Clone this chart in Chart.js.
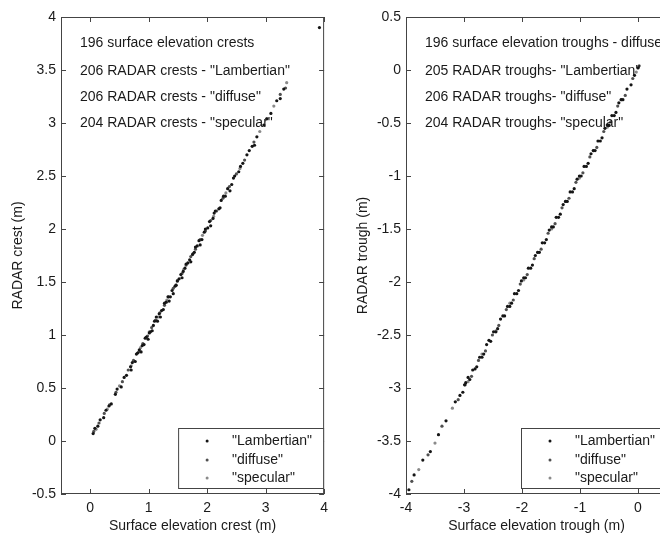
<!DOCTYPE html>
<html>
<head>
<meta charset="utf-8">
<script src="https://cdn.jsdelivr.net/npm/chart.js@4.4.1/dist/chart.umd.min.js"></script>
<style>
  html, body { margin: 0; padding: 0; background: #fff; overflow: hidden; width: 660px; height: 533px; }
  #crestCanvas { position: absolute; left: 0; top: 0; }
  #troughCanvas { position: absolute; left: 330px; top: 0; }
</style>
</head>
<body>
<canvas id="crestCanvas" width="334" height="533"></canvas>
<canvas id="troughCanvas" width="350" height="533"></canvas>
<script>
// Crest / trough comparison, surface elevation vs RADAR

const seriesNames = ['"Lambertian"', '"diffuse"', '"specular"'];

// [surface elevation, RADAR] pairs
const crestLambertian = [
  [0.05, 0.07], [0.08, 0.12], [0.13, 0.14], [0.17, 0.20], [0.23, 0.22], [0.27, 0.29], [0.32, 0.33],
  [0.36, 0.35], [0.43, 0.44], [0.46, 0.49], [0.53, 0.51], [0.58, 0.60], [0.62, 0.62], [0.69, 0.70],
  [0.72, 0.74], [0.77, 0.75], [0.81, 0.83], [0.84, 0.86], [0.89, 0.90], [0.92, 0.91], [0.96, 0.98],
  [1.01, 1.02], [1.03, 1.03], [1.08, 1.09], [1.10, 1.13], [1.15, 1.13], [1.18, 1.20], [1.22, 1.23],
  [1.25, 1.24], [1.30, 1.31], [1.33, 1.36], [1.37, 1.36], [1.40, 1.42], [1.45, 1.46], [1.47, 1.47],
  [1.52, 1.53], [1.55, 1.57], [1.59, 1.60], [1.62, 1.63], [1.67, 1.68], [1.70, 1.71], [1.75, 1.76],
  [1.78, 1.78], [1.83, 1.84], [1.86, 1.89], [1.91, 1.90], [1.95, 1.97], [2.01, 2.01], [2.04, 2.07],
  [2.10, 2.10], [2.14, 2.17], [2.20, 2.19], [2.24, 2.27], [2.31, 2.31], [2.35, 2.38], [2.42, 2.42],
  [2.47, 2.50], [2.54, 2.54], [2.61, 2.62], [2.68, 2.70], [2.77, 2.78], [2.85, 2.87], [2.97, 2.98],
  [3.09, 3.09], [3.19, 3.21], [3.31, 3.32], [3.92, 3.90],
  [0.70, 0.67], [0.79, 0.82], [0.87, 0.84], [0.94, 0.97], [0.99, 0.96], [1.06, 1.04], [1.13, 1.17],
  [1.20, 1.17], [1.27, 1.30], [1.35, 1.32], [1.42, 1.39], [1.49, 1.51], [1.57, 1.54], [1.64, 1.67],
  [1.72, 1.69], [1.80, 1.83], [1.88, 1.85], [1.97, 2.00], [2.06, 2.03], [2.12, 2.15], [2.22, 2.20],
  [2.28, 2.31], [2.39, 2.36], [2.45, 2.48], [2.57, 2.59], [2.72, 2.74], [2.81, 2.79], [3.02, 3.04],
  [3.25, 3.23]
];
const crestDiffuse = [
  [0.06, 0.09], [0.15, 0.17], [0.24, 0.26], [0.33, 0.34], [0.44, 0.46], [0.55, 0.56], [0.65, 0.67],
  [0.74, 0.76], [0.83, 0.84], [0.90, 0.92], [0.98, 0.99], [1.05, 1.07], [1.12, 1.14], [1.19, 1.21],
  [1.27, 1.28], [1.34, 1.36], [1.42, 1.44], [1.49, 1.51], [1.57, 1.58], [1.64, 1.66], [1.72, 1.74],
  [1.80, 1.81], [1.88, 1.90], [1.97, 1.98], [2.06, 2.08], [2.16, 2.17], [2.27, 2.29], [2.38, 2.40],
  [2.50, 2.52], [2.64, 2.65], [2.80, 2.82], [3.02, 3.04], [3.25, 3.27], [3.34, 3.33]
];
const crestSpecular = [
  [0.10, 0.11], [0.29, 0.30], [0.50, 0.52], [0.70, 0.71], [0.86, 0.88], [1.01, 1.03], [1.16, 1.17],
  [1.31, 1.33], [1.46, 1.47], [1.60, 1.62], [1.76, 1.77], [1.92, 1.94], [2.11, 2.12], [2.32, 2.34],
  [2.56, 2.57], [2.90, 2.92], [3.14, 3.16], [3.36, 3.38]
];

// right panel
const troughLambertian = [
  [-3.95, -3.96], [-3.86, -3.82], [-3.71, -3.68], [-3.58, -3.60], [-3.44, -3.44], [-3.31, -3.31],
  [-3.15, -3.13], [-3.07, -3.07], [-3.02, -3.04], [-2.97, -2.95], [-2.90, -2.92], [-2.85, -2.83],
  [-2.78, -2.80], [-2.73, -2.71], [-2.66, -2.68], [-2.61, -2.59], [-2.54, -2.56], [-2.49, -2.47],
  [-2.42, -2.44], [-2.37, -2.35], [-2.30, -2.32], [-2.25, -2.23], [-2.18, -2.20], [-2.13, -2.11],
  [-2.06, -2.08], [-2.01, -1.99], [-1.94, -1.96], [-1.89, -1.87], [-1.82, -1.84], [-1.77, -1.75],
  [-1.70, -1.72], [-1.65, -1.63], [-1.58, -1.60], [-1.53, -1.51], [-1.46, -1.48], [-1.41, -1.39],
  [-1.34, -1.36], [-1.29, -1.27], [-1.22, -1.24], [-1.17, -1.15], [-1.10, -1.12], [-1.05, -1.03],
  [-0.98, -1.00], [-0.93, -0.91], [-0.86, -0.88], [-0.81, -0.79], [-0.74, -0.76], [-0.69, -0.67],
  [-0.62, -0.64], [-0.57, -0.55], [-0.50, -0.52], [-0.45, -0.43], [-0.38, -0.40], [-0.33, -0.31],
  [-0.26, -0.28], [-0.19, -0.18], [-0.12, -0.14], [-0.06, -0.05], [0.00, 0.02],
  [-2.99, -2.97], [-2.93, -2.90], [-2.81, -2.82], [-2.69, -2.71], [-2.57, -2.55], [-2.45, -2.47],
  [-2.33, -2.32], [-2.21, -2.23], [-2.09, -2.11], [-1.97, -1.96], [-1.85, -1.87], [-1.73, -1.72],
  [-1.61, -1.63], [-1.49, -1.48], [-1.37, -1.39], [-1.25, -1.24], [-1.13, -1.15], [-1.01, -1.00],
  [-0.89, -0.91], [-0.77, -0.76], [-0.65, -0.67], [-0.53, -0.52], [-0.41, -0.43], [-0.29, -0.28]
];
const troughDiffuse = [
  [-3.90, -3.88], [-3.62, -3.63], [-3.38, -3.36], [-3.10, -3.11], [-2.98, -2.97], [-2.87, -2.89],
  [-2.75, -2.74], [-2.63, -2.65], [-2.51, -2.50], [-2.40, -2.41], [-2.27, -2.26], [-2.15, -2.17],
  [-2.03, -2.02], [-1.91, -1.93], [-1.79, -1.78], [-1.67, -1.69], [-1.55, -1.54], [-1.43, -1.45],
  [-1.31, -1.30], [-1.19, -1.21], [-1.07, -1.06], [-0.95, -0.97], [-0.83, -0.82], [-0.71, -0.73],
  [-0.59, -0.58], [-0.47, -0.49], [-0.35, -0.34], [-0.22, -0.24], [-0.09, -0.08], [0.02, 0.04]
];
const troughSpecular = [
  [-3.78, -3.77], [-3.50, -3.52], [-3.20, -3.19], [-2.93, -2.94], [-2.69, -2.68], [-2.45, -2.46],
  [-2.21, -2.20], [-1.97, -1.98], [-1.73, -1.72], [-1.49, -1.50], [-1.25, -1.24], [-1.01, -1.02],
  [-0.77, -0.76], [-0.53, -0.54], [-0.29, -0.28], [-0.03, -0.02]
];

const crestXTicks = [0, 1, 2, 3, 4];
const crestYTicks = [-0.5, 0, 0.5, 1, 1.5, 2, 2.5, 3, 3.5, 4];
const troughXTicks = [-4, -3, -2, -1, 0];
const troughYTicks = [-4, -3.5, -3, -2.5, -2, -1.5, -1, -0.5, 0, 0.5];

const crestNotes = [
  '196 surface elevation crests',
  '206 RADAR crests - "Lambertian"',
  '206 RADAR crests - "diffuse"',
  '204 RADAR crests - "specular"'
];
const troughNotes = [
  '196 surface elevation troughs - diffuse',
  '205 RADAR troughs- "Lambertian"',
  '206 RADAR troughs- "diffuse"',
  '204 RADAR troughs- "specular"'
];

const pointColors = ['#151515', '#505050', '#8a8a8a'];
const FONT = "'Liberation Sans', Arial, sans-serif";
const INK = '#1a1a1a';

Chart.defaults.font.family = FONT;
Chart.defaults.font.size = 14;
Chart.defaults.color = INK;

// matlab-like box with inward ticks, note lines and boxed legend
const matlabFrame = {
  id: 'matlabFrame',
  afterDraw(chart, args, opts) {
    const ctx = chart.ctx;
    const { left, right, top, bottom } = chart.chartArea;
    const xs = chart.scales.x, ys = chart.scales.y;
    ctx.save();
    ctx.strokeStyle = '#444';
    ctx.lineWidth = 1;
    ctx.strokeRect(left + 0.5, top + 0.5, right - left - 1, bottom - top - 1);
    ctx.beginPath();
    xs.ticks.forEach(t => {
      const px = Math.round(xs.getPixelForValue(t.value)) + 0.5;
      ctx.moveTo(px, bottom); ctx.lineTo(px, bottom - 5);
      ctx.moveTo(px, top); ctx.lineTo(px, top + 5);
    });
    ys.ticks.forEach(t => {
      const py = Math.round(ys.getPixelForValue(t.value)) + 0.5;
      ctx.moveTo(left, py); ctx.lineTo(left + 5, py);
      ctx.moveTo(right, py); ctx.lineTo(right - 5, py);
    });
    ctx.stroke();

    ctx.font = '14px ' + FONT;
    ctx.fillStyle = INK;
    ctx.textBaseline = 'middle';
    const noteY = [26, 54, 80, 106];
    opts.notes.forEach((s, i) => ctx.fillText(s, left + 19, top + noteY[i]));

    // legend
    const bw = 146, bh = 61;
    const bx = right - bw, by = bottom - 5 - bh;
    ctx.fillStyle = '#fff';
    ctx.fillRect(bx, by, bw, bh);
    ctx.strokeStyle = '#444';
    ctx.strokeRect(bx + 0.5, by + 0.5, bw - 1, bh - 1);
    const rowY = [13, 32, 50];
    chart.data.datasets.forEach((ds, i) => {
      ctx.fillStyle = ds.backgroundColor;
      ctx.beginPath();
      ctx.arc(bx + 29, by + rowY[i], 1.5, 0, Math.PI * 2);
      ctx.fill();
      ctx.fillStyle = INK;
      ctx.fillText(ds.label, bx + 54, by + rowY[i]);
    });
    ctx.restore();
  }
};

function makePanel(canvasId, series, xTicks, yTicks, xRange, yRange, xTitle, yTitle, notes, yAxisWidth, padRight, titlePad) {
  const ctx = document.getElementById(canvasId).getContext('2d');
  return new Chart(ctx, {
    type: 'scatter',
    data: {
      datasets: series.map((pts, i) => ({
        label: seriesNames[i],
        data: pts.map(p => ({ x: p[0], y: p[1] })),
        backgroundColor: pointColors[i],
        borderWidth: 0,
        pointRadius: 1.6,
        pointHoverRadius: 1.6
      }))
    },
    options: {
      responsive: false,
      animation: false,
      layout: { padding: { top: 17, right: padRight, bottom: 0, left: 0 } },
      plugins: {
        legend: { display: false },
        tooltip: { enabled: false },
        matlabFrame: { notes: notes }
      },
      scales: {
        x: {
          type: 'linear',
          min: xRange[0], max: xRange[1],
          grid: { display: false, drawTicks: false },
          border: { display: false },
          afterBuildTicks: s => { s.ticks = xTicks.map(v => ({ value: v })); },
          afterFit: s => { s.height = 39; },
          ticks: { padding: 6, maxRotation: 0, callback: v => String(v) },
          title: { display: true, text: xTitle, font: { lineHeight: 1 }, padding: { top: 0, bottom: 0 } }
        },
        y: {
          type: 'linear',
          min: yRange[0], max: yRange[1],
          grid: { display: false, drawTicks: false },
          border: { display: false },
          afterBuildTicks: s => { s.ticks = yTicks.map(v => ({ value: v })); },
          afterFit: s => { s.width = yAxisWidth; },
          ticks: { padding: 5, callback: v => String(v) },
          title: { display: true, text: yTitle, font: { lineHeight: 1 }, padding: { top: titlePad, bottom: 0 } }
        }
      }
    },
    plugins: [matlabFrame]
  });
}

makePanel('crestCanvas', [crestLambertian, crestDiffuse, crestSpecular],
  crestXTicks, crestYTicks, [-0.5, 4], [-0.5, 4],
  'Surface elevation crest (m)', 'RADAR crest (m)', crestNotes, 61, 2, 11);

makePanel('troughCanvas', [troughLambertian, troughDiffuse, troughSpecular],
  troughXTicks, troughYTicks, [-4, 0.5], [-4, 0.5],
  'Surface elevation trough (m)', 'RADAR trough (m)', troughNotes, 76, 13, 26);
</script>
</body>
</html>
